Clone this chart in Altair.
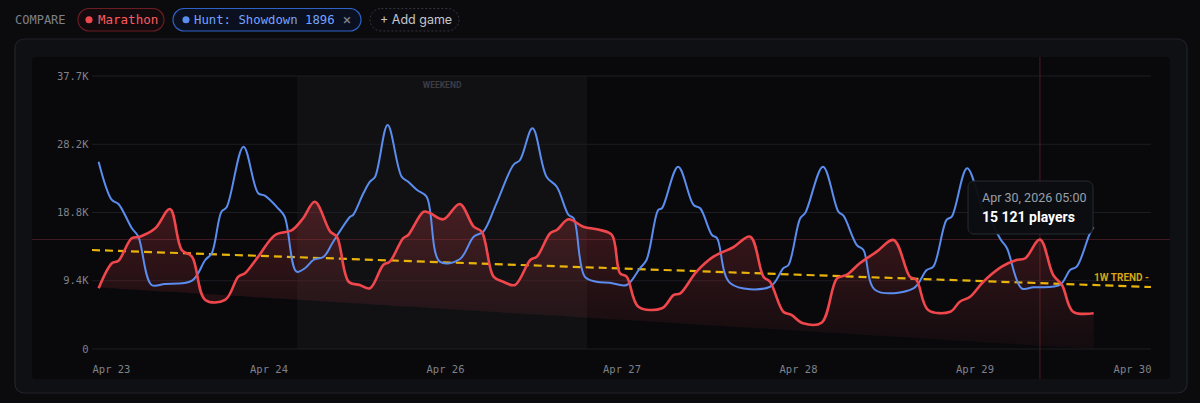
import altair as alt
import numpy as np
import pandas as pd

# ---------------- data ----------------
blue_hours = [0.9, 2.7, 3.6, 5.4, 6.3, 8.1, 9.9, 13.6, 15.4, 16.3, 17.6, 18.3, 20.6, 22.6, 23.5, 25.3, 26.2,
              27.8, 29.0, 30.1, 31.5, 32.8, 35.1, 35.5, 36.9, 37.8, 38.5, 40.2, 42.1, 43.0, 44.2, 45.5, 47.3,
              50.0, 51.9, 53.2, 55.0,
              57.3, 58.2, 59.9, 61.8, 63.2, 64.8, 65.5, 67.0, 68.6, 70.4, 72.7, 74.5, 75.4, 77.0, 77.5, 79.7,
              81.8, 82.7, 84.3, 85.0, 86.8, 92.2, 94.0, 94.7, 96.3, 97.0, 99.4, 101.5, 102.2, 104.0, 104.9,
              106.5, 111.7, 113.5, 114.4, 116.2, 116.9, 119.0, 121.2, 121.8, 123.6, 124.4, 126.4, 128.0,
              131.6, 133.0, 133.9, 135.7, 136.2]
blue_players = [25870, 20580, 20030, 16710, 15510, 8840, 8980, 9430, 12290, 13260, 18960, 19570, 27940, 21500,
                21170, 19430, 18270, 10680, 11190, 12290, 12750, 14820, 18270, 18510, 21500, 23100, 23800,
                30930, 23800, 23100, 21960, 21030, 12060,
                12390, 15510, 16200, 20120, 25410, 26100, 30480, 23800, 22410, 18510, 18050,
                9990, 9290, 9160, 8840, 11150, 12290, 19200, 19430, 25180, 19890, 19430, 15740, 15290, 9070,
                8600, 11150, 11600, 18050, 18820, 25180, 18960, 18370, 14360, 13670, 8150, 8380, 10910, 11370,
                17820, 18270, 24950, 19060, 18370, 15050, 13950, 8380, 8520, 8840, 10910, 11370, 15980, 16810]

red_hours = [0.9, 2.7, 3.6, 5.4, 6.5, 8.6, 10.6, 12.2, 13.6, 15.4, 18.1, 19.9, 20.8, 22.6, 24.9, 27.2, 28.7,
             30.3, 32.4, 33.3, 34.9, 36.4, 37.8, 39.6, 40.5, 42.3, 43.0, 45.1, 46.0, 47.8, 50.0, 51.9, 53.0,
             54.6, 55.9, 57.5, 59.6, 60.5, 62.3, 63.2, 64.8, 66.8, 69.1, 70.7, 71.8, 72.7, 74.3, 77.5, 79.1,
             80.0, 82.2, 84.5, 87.2, 89.5, 91.3, 92.2, 94.0, 95.1, 96.7, 99.2, 101.3, 102.6, 104.4, 106.7,
             109.0, 111.2, 112.1, 113.7, 116.7, 118.0, 119.4, 121.2, 123.7, 125.7, 126.9, 128.9, 130.7,
             131.9, 133.4, 136.2]
red_players = [8380, 11840, 12190, 15290, 15510, 16670, 19330, 13670, 12750, 6770, 6770, 9990, 10450, 12750,
               15740, 16430, 18050, 20340, 16200, 15510, 9290, 8840, 8380, 11600, 12060, 15290, 15740, 18960,
               18740, 17910, 20030, 16890, 16200, 9990, 9290, 8840, 12290, 12750, 15980, 16430, 17910, 16890,
               16430, 15740, 10450, 9990, 5840, 5620, 7460, 7690, 10680, 12750, 14050, 15510, 9990, 9290,
               5150, 4700, 3550, 3630, 9760, 10220, 11840, 13440, 15050, 9990, 9530, 5390, 5150, 6530, 7220,
               9290, 11370, 12290, 12530, 15121, 10220, 8840, 5150, 4930]

trend_hours = [0, 144]
trend_players = [13670, 8560]
fill_floor_hours = [0, 136.2]
fill_floor_players = [8560, 0]

weekend_hours = [27.9, 67.3]
x_tick_hours = [0, 24, 48, 72, 96, 120, 144]
x_tick_labels = ["Apr 23", "Apr 24", "Apr 26", "Apr 27", "Apr 28", "Apr 29", "Apr 30"]
y_tick_values = [0, 9425, 18850, 28275, 37700]
y_tick_labels = ["0", "9.4K", "18.8K", "28.2K", "37.7K"]

hover_hour = 128.9
hover_players = 15121
hover_time = "Apr 30, 2026 05:00"
game_names = ["Marathon", "Hunt: Showdown 1896"]

# ---------------- styling ----------------
PAGE_BG = "#0b0b0e"
CARD_BG = "#0f1014"
PANEL_BG = "#09090c"
RED = "#f0474d"
BLUE = "#5b8def"
GOLD = "#e8b40c"
MONO = "DejaVu Sans Mono"
SANS = "Roboto"
W, H = 1059, 273
CURVE = "catmull-rom"

red_df = pd.DataFrame({"h": red_hours, "v": red_players})
red_df["floor"] = np.interp(red_df["h"], fill_floor_hours, fill_floor_players)
blue_df = pd.DataFrame({"h": blue_hours, "v": blue_players})
trend_df = pd.DataFrame({"h": trend_hours, "v": trend_players})
grid_df = pd.DataFrame({"v": y_tick_values})
week_df = pd.DataFrame({"h1": [weekend_hours[0]], "h2": [weekend_hours[1]],
                        "mid": [sum(weekend_hours) / 2], "label": ["WEEKEND"]})
hover_df = pd.DataFrame({"h": [hover_hour], "v": [hover_players]})
one = pd.DataFrame({"a": [0]})

xscale = alt.Scale(domain=[0, 144], nice=False, zero=False)
yscale = alt.Scale(domain=[0, 37700], nice=False)

x_label_expr = "[" + ",".join(f"'{s}'" for s in x_tick_labels) + "][round(datum.value/24)]"
y_label_expr = "[" + ",".join(f"'{s}'" for s in y_tick_labels) + "][round(datum.value/9425)]"

x_axis = alt.Axis(values=x_tick_hours, labelExpr=x_label_expr, labelFlush=True, domain=False, ticks=False,
                  grid=False, labelPadding=15, labelFont=MONO, labelFontSize=10.5, labelColor="#7f828a",
                  title=None, zindex=1)
y_axis = alt.Axis(values=y_tick_values, labelExpr=y_label_expr, domain=False, ticks=False, grid=False,
                  labelPadding=4, labelFont=MONO, labelFontSize=10.5, labelColor="#7f828a",
                  title=None, zindex=1)


def X(field):
    return alt.X(field, type="quantitative", scale=xscale, axis=x_axis)


def Y(field):
    return alt.Y(field, type="quantitative", scale=yscale, axis=y_axis)


# ---------------- decorations ----------------
card = alt.Chart(one).mark_rect(cornerRadius=9, fill=CARD_BG, stroke="#20232b", strokeWidth=1.2).encode(
    x=alt.value(-77), x2=alt.value(1095), y=alt.value(-37), y2=alt.value(317))
panel = alt.Chart(one).mark_rect(cornerRadius=3, fill=PANEL_BG).encode(
    x=alt.value(-60), x2=alt.value(1078), y=alt.value(-19), y2=alt.value(303))

PY1, PY2, PYC = -67.5, -45, -56.3
compare_txt = alt.Chart(one).mark_text(text="COMPARE", font=MONO, fontSize=12, color="#7d818a",
                                        align="left", baseline="middle").encode(
    x=alt.value(-77), y=alt.value(PYC))
pill1 = alt.Chart(one).mark_rect(cornerRadius=12, fill="#120a0c", stroke="#6a1d23", strokeWidth=1.2).encode(
    x=alt.value(-14), x2=alt.value(72), y=alt.value(PY1), y2=alt.value(PY2))
dot1 = alt.Chart(one).mark_point(filled=True, size=50, color=RED, opacity=1).encode(
    x=alt.value(-3), y=alt.value(PYC))
txt1 = alt.Chart(one).mark_text(text=game_names[0], font=MONO, fontSize=12.5, color="#ff5a60",
                                align="left", baseline="middle").encode(x=alt.value(6), y=alt.value(PYC))
pill2 = alt.Chart(one).mark_rect(cornerRadius=12, fill="#0b1020", stroke="#2f62c4", strokeWidth=1.2).encode(
    x=alt.value(81), x2=alt.value(269), y=alt.value(PY1), y2=alt.value(PY2))
dot2 = alt.Chart(one).mark_point(filled=True, size=50, color=BLUE, opacity=1).encode(
    x=alt.value(94), y=alt.value(PYC))
txt2 = alt.Chart(one).mark_text(text=game_names[1], font=MONO, fontSize=12.3, color="#74a3ff",
                                align="left", baseline="middle").encode(x=alt.value(102), y=alt.value(PYC))
close2 = alt.Chart(one).mark_text(text="×", font=SANS, fontSize=15, color="#7d828c",
                                  align="center", baseline="middle").encode(x=alt.value(255), y=alt.value(PYC))
pill3 = alt.Chart(one).mark_rect(cornerRadius=12, fill="#0c0c10", stroke="#34363e", strokeWidth=1,
                                 strokeDash=[2, 2]).encode(
    x=alt.value(278), x2=alt.value(367), y=alt.value(PY1), y2=alt.value(PY2))
txt3 = alt.Chart(one).mark_text(text="+  Add game", font="Inter", fontSize=12.5, color="#c5c7cd",
                                align="left", baseline="middle").encode(x=alt.value(288), y=alt.value(PYC))

# ---------------- chart layers ----------------
week_band = alt.Chart(week_df).mark_rect(fill="#ffffff", opacity=0.035).encode(
    x=X("h1"), x2="h2:Q", y=alt.value(0), y2=alt.value(H))
week_label = alt.Chart(week_df).mark_text(font=SANS, fontSize=8.5, fontWeight="bold", color="#3c3d44",
                                          baseline="middle").encode(
    x=X("mid"), y=alt.value(9), text="label:N")

grid = alt.Chart(grid_df).mark_rule(color="#1c1d23", strokeWidth=1).encode(
    y=Y("v"), x=alt.value(0), x2=alt.value(W))

cross_v = alt.Chart(hover_df).mark_rule(color="#4e1b24", strokeWidth=1).encode(
    x=X("h"), y=alt.value(-19), y2=alt.value(303))
cross_h = alt.Chart(hover_df).mark_rule(color="#3f1a22", strokeWidth=1).encode(
    y=Y("v"), x=alt.value(-60), x2=alt.value(1078))

red_fill = alt.Chart(red_df).mark_area(
    interpolate=CURVE,
    fill=alt.Gradient(gradient="linear", x1=0, y1=0, x2=0, y2=1,
                      stops=[alt.GradientStop(color="rgba(240,71,77,0.24)", offset=0),
                             alt.GradientStop(color="rgba(240,71,77,0.04)", offset=1)])).encode(
    x=X("h"), y=Y("v"), y2="floor:Q")

trend = alt.Chart(trend_df).mark_line(color=GOLD, strokeWidth=2.2, strokeDash=[8, 5]).encode(
    x=X("h"), y=Y("v"))
trend_label = alt.Chart(trend_df.tail(1)).mark_text(
    text="1W TREND -", font=SANS, fontSize=10, fontWeight="bold", color="#d6a514",
    align="right", baseline="middle", dx=-2, dy=-9).encode(x=X("h"), y=Y("v"))

blue_line = alt.Chart(blue_df).mark_line(color=BLUE, strokeWidth=2, interpolate=CURVE).encode(
    x=X("h"), y=Y("v"))
red_line = alt.Chart(red_df).mark_line(color=RED, strokeWidth=2.6, interpolate=CURVE).encode(
    x=X("h"), y=Y("v"))

tip_box = alt.Chart(one).mark_rect(cornerRadius=6, fill="#0d0e12", opacity=0.96, stroke="#2a2d35",
                                   strokeWidth=1).encode(
    x=alt.value(876), x2=alt.value(1001), y=alt.value(105), y2=alt.value(158))
tip_time = alt.Chart(one).mark_text(text=hover_time, font=SANS, fontSize=12.5, color="#9aa0aa",
                                    align="left", baseline="middle").encode(x=alt.value(890), y=alt.value(121.5))
tip_val = alt.Chart(one).mark_text(text=f"{hover_players:,}".replace(",", " ") + " players", font=SANS,
                                   fontSize=14, fontWeight="bold", color="#ffffff",
                                   align="left", baseline="middle").encode(x=alt.value(890), y=alt.value(141.5))

chart = alt.layer(
    card, panel, compare_txt, pill1, dot1, txt1, pill2, dot2, txt2, close2, pill3, txt3,
    week_band, grid, week_label, cross_h, cross_v, red_fill, trend, blue_line, red_line, trend_label,
    tip_box, tip_time, tip_val,
).properties(
    width=W, height=H,
    autosize=alt.AutoSizeParams(type="none"),
    padding={"left": 84, "top": 68, "right": 40, "bottom": 46},
    background=PAGE_BG,
).configure_view(stroke=None)


class _DarkPage:
    def __init__(self, base):
        self.base = base

    def render(self, **kw):
        html = self.base.render(**kw)
        return html.replace("<head>", "<head>\n<style>html,body{background:%s;}</style>" % PAGE_BG, 1)


try:
    from altair.utils.html import TEMPLATES
    chart.save("out.html", embed_options={"renderer": "svg", "actions": False},
               template=_DarkPage(TEMPLATES["standard"]))
except Exception:
    chart.save("out.html", embed_options={"renderer": "svg", "actions": False})
